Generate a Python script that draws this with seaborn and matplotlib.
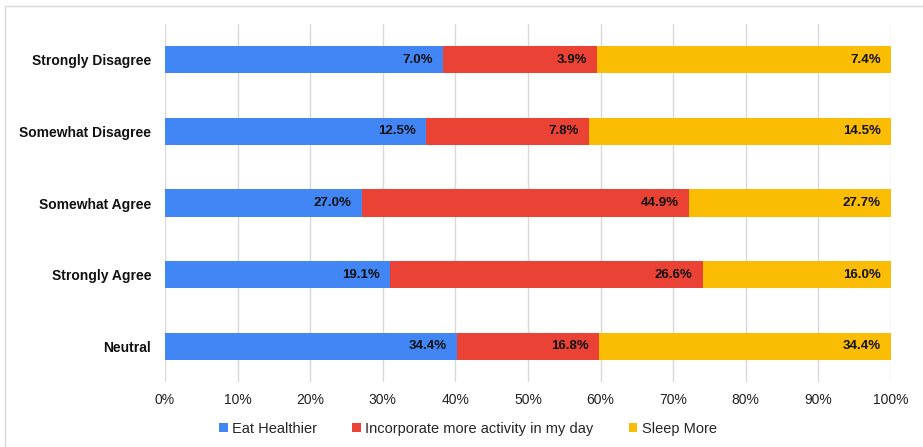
import matplotlib
matplotlib.use("Agg")
import matplotlib.pyplot as plt
from matplotlib.lines import Line2D
from matplotlib.patches import Patch
import numpy as np
import pandas as pd
import seaborn as sns

categories = ["Strongly Disagree", "Somewhat Disagree", "Somewhat Agree", "Strongly Agree", "Neutral"]
eat_healthier = [7.0, 12.5, 27.0, 19.1, 34.4]
more_activity = [3.9, 7.8, 44.9, 26.6, 16.8]
sleep_more = [7.4, 14.5, 27.7, 16.0, 34.4]
series_names = ["Eat Healthier", "Incorporate more activity in my day", "Sleep More"]
colors = ["#4285F4", "#EA4335", "#FBBC04"]
x_ticks = [0, 10, 20, 30, 40, 50, 60, 70, 80, 90, 100]

sns.set_theme(style="white")
plt.rcParams["font.family"] = ["Liberation Sans", "DejaVu Sans"]

raw = np.array([eat_healthier, more_activity, sleep_more])
share = raw / raw.sum(axis=0) * 100
cum = np.cumsum(share, axis=0)

df = pd.DataFrame({"category": categories})
for i, name in enumerate(series_names):
    df[name] = cum[i]

fig = plt.figure(figsize=(9.23, 4.47), dpi=100)
ax = fig.add_axes([165 / 923, 1 - 382 / 447, (891 - 165) / 923, (382 - 24) / 447])

# stacked look: draw cumulative totals from the longest down
for i in reversed(range(3)):
    sns.barplot(data=df, y="category", x=series_names[i], color=colors[i],
                order=categories, orient="h", width=0.38, ax=ax,
                saturation=1, edgecolor="none", linewidth=0)

# value labels at the right end of each segment
for i in range(3):
    vals = raw[i]
    for j, v in enumerate(vals):
        ax.text(cum[i][j] - 1.4, j, f"{v:.1f}%", ha="right", va="center",
                fontsize=9.5, fontweight="bold", color="#111111")

ax.set_xlim(0, 100)
ax.set_ylim(4.5, -0.5)
ax.set_xticks(x_ticks)
ax.set_xticklabels([f"{t}%" for t in x_ticks], fontsize=10, color="#222222")
ax.set_ylabel("")
ax.set_xlabel("")
ax.tick_params(axis="y", labelsize=10, length=0, pad=10)
ax.tick_params(axis="x", length=0, pad=8)
for lbl in ax.get_yticklabels():
    lbl.set_fontweight("bold")
    lbl.set_color("#111111")
ax.grid(axis="x", color="#d9d9d9", linewidth=1)
ax.set_axisbelow(True)
for s in ["top", "right", "bottom", "left"]:
    ax.spines[s].set_visible(False)

handles = [Patch(facecolor=c, edgecolor="none") for c in colors]
fig.legend(handles, series_names, loc="center", bbox_to_anchor=(468 / 923, 1 - 429 / 447),
           ncol=3, frameon=False, fontsize=10.5, handlelength=0.6, handleheight=0.6,
           handletextpad=0.3, columnspacing=2.4)

# outer frame lines along the top and left edges
fig.add_artist(Line2D([5 / 923, 5 / 923], [0, 1 - 6 / 447], transform=fig.transFigure,
                      color="#d9d9d9", linewidth=1))
fig.add_artist(Line2D([5 / 923, 1], [1 - 6 / 447, 1 - 6 / 447], transform=fig.transFigure,
                      color="#d9d9d9", linewidth=1))

fig.savefig("out.png", dpi=100)
